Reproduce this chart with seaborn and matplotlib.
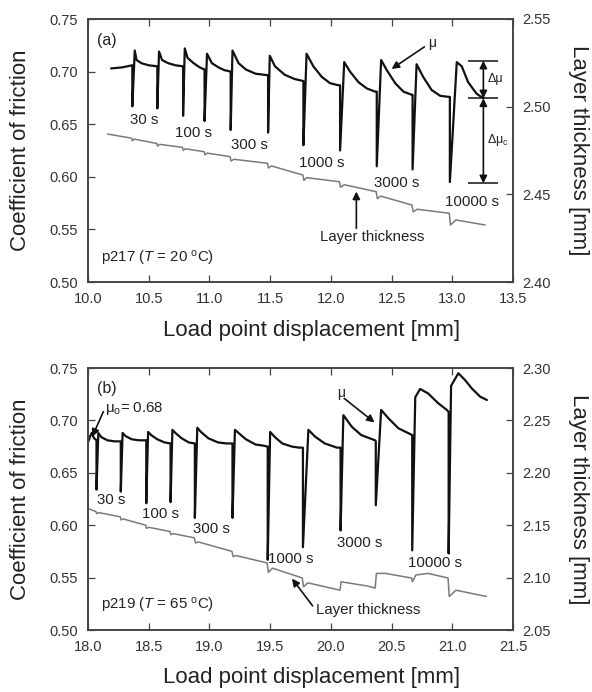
import matplotlib
matplotlib.use('Agg')
import matplotlib.pyplot as plt
import seaborn as sns

# ---------------- data: panel (a) p217 ----------------
a_mu_x = [10.19, 10.28,
          10.365, 10.365, 10.385, 10.40, 10.44, 10.50,
          10.571, 10.571, 10.585, 10.61, 10.66, 10.72,
          10.783, 10.783, 10.797, 10.82, 10.87, 10.92,
          10.96, 10.96, 10.98, 11.02, 11.075, 11.12,
          11.175, 11.175, 11.19, 11.24, 11.30, 11.38, 11.45,
          11.483, 11.483, 11.497, 11.54, 11.62, 11.70,
          11.774, 11.774, 11.80, 11.856, 11.925, 11.993, 12.062,
          12.076, 12.076, 12.11, 12.158, 12.227, 12.296, 12.364,
          12.378, 12.378, 12.414, 12.46, 12.53, 12.597, 12.666,
          12.673, 12.673, 12.706, 12.76, 12.83, 12.90, 12.968,
          12.98, 12.98, 13.037, 13.078, 13.13, 13.20, 13.256]
a_mu_y = [0.703, 0.704,
          0.706, 0.667, 0.720, 0.711, 0.708, 0.706,
          0.705, 0.665, 0.719, 0.711, 0.708, 0.706,
          0.705, 0.658, 0.722, 0.713, 0.708, 0.704,
          0.702, 0.653, 0.717, 0.708, 0.704, 0.7015,
          0.700, 0.6445, 0.720, 0.708, 0.702, 0.698, 0.697,
          0.6965, 0.642, 0.715, 0.705, 0.697, 0.693,
          0.691, 0.630, 0.717, 0.705, 0.695, 0.689, 0.687,
          0.687, 0.625, 0.709, 0.700, 0.690, 0.684, 0.681,
          0.681, 0.610, 0.711, 0.7015, 0.689, 0.681, 0.678,
          0.678, 0.607, 0.707, 0.695, 0.6825, 0.677, 0.676,
          0.676, 0.595, 0.709, 0.705, 0.690, 0.679, 0.6746]
a_thk_x = [10.16, 10.36, 10.365, 10.38, 10.567, 10.573, 10.59, 10.778, 10.785,
           10.80, 10.957, 10.963, 10.98, 11.17, 11.178, 11.20, 11.478, 11.486,
           11.51, 11.77, 11.778, 11.80, 12.07, 12.08, 12.11, 12.373, 12.383,
           12.41, 12.668, 12.678, 12.71, 12.975, 12.985, 13.03, 13.27]
a_thk_y = [2.4844, 2.482, 2.4805, 2.4815, 2.479, 2.4775, 2.4785, 2.4768, 2.475,
           2.476, 2.4743, 2.4725, 2.4735, 2.4715, 2.469, 2.470, 2.4677, 2.465,
           2.4662, 2.461, 2.458, 2.4595, 2.4572, 2.454, 2.4555, 2.4515, 2.4475,
           2.449, 2.4439, 2.440, 2.4415, 2.4392, 2.4325, 2.4354, 2.4325]
a_hold_labels = ['30 s', '100 s', '300 s', '1000 s', '3000 s', '10000 s']
a_hold_lx = [10.46, 10.87, 11.33, 11.925, 12.54, 13.16]
a_hold_ly = [0.654, 0.642, 0.630, 0.6134, 0.5944, 0.5763]

# ---------------- data: panel (b) p219 ----------------
b_mu_x = [18.0, 18.015, 18.03, 18.05,
          18.07, 18.07, 18.085, 18.11, 18.16, 18.22,
          18.27, 18.27, 18.285, 18.31, 18.36, 18.42,
          18.48, 18.48, 18.495, 18.52, 18.57, 18.63,
          18.68, 18.68, 18.695, 18.72, 18.77, 18.83,
          18.88, 18.88, 18.90, 18.93, 18.99, 19.07, 19.14,
          19.19, 19.19, 19.21, 19.24, 19.30, 19.38, 19.44,
          19.48, 19.48, 19.50, 19.54, 19.60, 19.68, 19.74,
          19.77, 19.77, 19.815, 19.87, 19.95, 20.05,
          20.08, 20.08, 20.103, 20.172, 20.25, 20.364,
          20.37, 20.37, 20.414, 20.474, 20.556, 20.64,
          20.67, 20.67, 20.695, 20.735, 20.80, 20.885, 20.955,
          20.97, 20.97, 20.99, 21.05, 21.105, 21.16, 21.23, 21.285]
b_mu_y = [0.679, 0.684, 0.688, 0.683,
          0.681, 0.634, 0.688, 0.684, 0.681, 0.680,
          0.680, 0.632, 0.688, 0.685, 0.682, 0.681,
          0.681, 0.621, 0.689, 0.686, 0.682, 0.679,
          0.678, 0.622, 0.691, 0.688, 0.683, 0.679,
          0.678, 0.607, 0.693, 0.689, 0.683, 0.679, 0.678,
          0.678, 0.607, 0.691, 0.688, 0.682, 0.677, 0.676,
          0.675, 0.567, 0.689, 0.684, 0.678, 0.675, 0.674,
          0.674, 0.579, 0.691, 0.6845, 0.678, 0.674,
          0.674, 0.595, 0.705, 0.694, 0.686, 0.681,
          0.680, 0.619, 0.710, 0.702, 0.6925, 0.6877,
          0.686, 0.576, 0.722, 0.730, 0.7258, 0.7163, 0.710,
          0.708, 0.573, 0.733, 0.745, 0.7385, 0.7306, 0.7226, 0.7195]
b_thk_x = [18.0, 18.065, 18.072, 18.09, 18.265, 18.272, 18.29, 18.475, 18.482,
           18.50, 18.675, 18.682, 18.70, 18.875, 18.885, 18.91, 19.185, 19.195,
           19.22, 19.475, 19.485, 19.52, 19.765, 19.775, 19.81, 20.075, 20.085,
           20.30, 20.365, 20.375, 20.45, 20.665, 20.672, 20.70, 20.80, 20.965,
           20.975, 21.03, 21.28]
b_thk_y = [2.166, 2.163, 2.161, 2.162, 2.158, 2.155, 2.156, 2.150, 2.147,
           2.148, 2.144, 2.141, 2.142, 2.138, 2.133, 2.134, 2.125, 2.120,
           2.121, 2.114, 2.105, 2.109, 2.0996, 2.0913, 2.095, 2.088, 2.096,
           2.092, 2.090, 2.104, 2.104, 2.0996, 2.096, 2.1025, 2.104, 2.0996,
           2.082, 2.088, 2.082]
b_hold_labels = ['30 s', '100 s', '300 s', '1000 s', '3000 s', '10000 s']
b_hold_lx = [18.19, 18.60, 19.02, 19.67, 20.24, 20.86]
b_hold_ly = [0.624, 0.6104, 0.5961, 0.5675, 0.5828, 0.5637]

a_xticks = [10.0, 10.5, 11.0, 11.5, 12.0, 12.5, 13.0, 13.5]
b_xticks = [18.0, 18.5, 19.0, 19.5, 20.0, 20.5, 21.0, 21.5]
mu_ticks = [0.50, 0.55, 0.60, 0.65, 0.70, 0.75]
a_thk_ticks = [2.40, 2.45, 2.50, 2.55]
b_thk_ticks = [2.05, 2.10, 2.15, 2.20, 2.25, 2.30]

# ---------------- style ----------------
sns.set_theme(style='ticks')
plt.rcParams['font.family'] = ['Liberation Sans', 'DejaVu Sans']
plt.rcParams['mathtext.fontset'] = 'custom'
plt.rcParams['mathtext.rm'] = 'Liberation Sans'
plt.rcParams['mathtext.it'] = 'Liberation Sans:italic'

INK = '#111111'
GRAY = '#7a7a7a'
FRAME = '#444444'
TXT = '#222222'
arrow_kw = dict(arrowstyle='-|>', color=INK, lw=1.2, mutation_scale=11,
                shrinkA=0, shrinkB=0)

fig = plt.figure(figsize=(5.92, 6.92), dpi=100)
axA = fig.add_axes([88 / 592, 1 - 282 / 692, 425 / 592, 263 / 692])
axB = fig.add_axes([88 / 592, 1 - 630 / 692, 425 / 592, 262 / 692])


def panel(ax, mux, muy, thx, thy, xticks, thticks, xlim, thlim,
          hold_lab, hlx, hly):
    ax2 = ax.twinx()
    sns.lineplot(x=mux, y=muy, ax=ax, color=INK, lw=1.6, sort=False,
                 estimator=None)
    sns.lineplot(x=thx, y=thy, ax=ax2, color=GRAY, lw=1.1, sort=False,
                 estimator=None)
    ax.set_xlim(*xlim)
    ax.set_ylim(0.50, 0.75)
    ax2.set_ylim(*thlim)
    ax.set_xticks(xticks)
    ax.set_xticklabels([f'{v:.1f}' for v in xticks])
    ax.set_yticks(mu_ticks)
    ax.set_yticklabels([f'{v:.2f}' for v in mu_ticks])
    ax2.set_yticks(thticks)
    ax2.set_yticklabels([f'{v:.2f}' for v in thticks])
    for a in (ax, ax2):
        a.tick_params(direction='in', length=5, width=0.9, color=FRAME,
                      labelcolor='#333333', labelsize=10.5, pad=7)
        for s in a.spines.values():
            s.set_color(FRAME)
            s.set_linewidth(1.2)
    ax.tick_params(axis='x', top=True)
    ax.set_xlabel('Load point displacement [mm]', fontsize=16, color=TXT)
    ax.xaxis.label.set_va('center')
    ax.xaxis.set_label_coords(0.527, -0.183)
    ax.set_ylabel('Coefficient of friction', fontsize=16, color=TXT)
    ax.yaxis.label.set_va('center')
    ax.yaxis.set_label_coords(-0.158, 0.5)
    ax2.set_ylabel('Layer thickness [mm]', fontsize=16, color=TXT,
                   rotation=270)
    ax2.yaxis.label.set_va('center')
    ax2.yaxis.set_label_coords(1.155, 0.5)
    for lab, x, y in zip(hold_lab, hlx, hly):
        ax.text(x, y, lab, ha='center', va='center', fontsize=10.8, color=TXT)
    return ax2


panel(axA, a_mu_x, a_mu_y, a_thk_x, a_thk_y, a_xticks, a_thk_ticks,
      (10.0, 13.5), (2.40, 2.55), a_hold_labels, a_hold_lx, a_hold_ly)
panel(axB, b_mu_x, b_mu_y, b_thk_x, b_thk_y, b_xticks, b_thk_ticks,
      (18.0, 21.5), (2.05, 2.30), b_hold_labels, b_hold_lx, b_hold_ly)

# ---------------- annotations panel (a) ----------------
axA.text(10.07, 0.7294, '(a)', ha='left', va='center', fontsize=11.5, color=TXT)
axA.text(10.11, 0.5228, r'p217 ($\mathit{T}$ = 20 $^{\mathregular{o}}$C)',
         ha='left', va='center', fontsize=10.8, color=TXT)
axA.text(12.80, 0.7269, 'μ', ha='left', va='center', fontsize=10, color=TXT)
axA.annotate('', xy=(12.50, 0.7025), xytext=(12.77, 0.7235), arrowprops=arrow_kw)
axA.text(12.34, 0.5425, 'Layer thickness', ha='center', va='center',
         fontsize=10.8, color=TXT)
axA.annotate('', xy=(12.21, 0.586), xytext=(12.21, 0.551), arrowprops=arrow_kw)
axA.hlines([0.7104, 0.6746, 0.5938], 13.13, 13.38, colors=INK, lw=1.1)
dbl = dict(arrow_kw, arrowstyle='<|-|>')
axA.annotate('', xy=(13.256, 0.7104), xytext=(13.256, 0.6746), arrowprops=dbl)
axA.annotate('', xy=(13.256, 0.6746), xytext=(13.256, 0.5938), arrowprops=dbl)
axA.text(13.29, 0.6927, 'Δμ', ha='left', va='center', fontsize=9, color=TXT)
axA.text(13.29, 0.635, r'Δμ$_{\mathregular{c}}$', ha='left', va='center',
         fontsize=9, color=TXT)

# ---------------- annotations panel (b) ----------------
axB.text(18.07, 0.7306, '(b)', ha='left', va='center', fontsize=11.5, color=TXT)
axB.text(18.11, 0.5236, r'p219 ($\mathit{T}$ = 65 $^{\mathregular{o}}$C)',
         ha='left', va='center', fontsize=10.8, color=TXT)
axB.text(18.14, 0.7109, r'μ$_{\mathregular{o}}$= 0.68', ha='left', va='center',
         fontsize=10.8, color=TXT)
axB.annotate('', xy=(18.035, 0.6844), xytext=(18.126, 0.7083), arrowprops=arrow_kw)
axB.text(20.05, 0.726, 'μ', ha='left', va='center', fontsize=10, color=TXT)
axB.annotate('', xy=(20.36, 0.698), xytext=(20.11, 0.721), arrowprops=arrow_kw)
axB.text(20.31, 0.519, 'Layer thickness', ha='center', va='center',
         fontsize=10.8, color=TXT)
axB.annotate('', xy=(19.68, 0.549), xytext=(19.85, 0.523), arrowprops=arrow_kw)

fig.savefig('out.png', dpi=100)
